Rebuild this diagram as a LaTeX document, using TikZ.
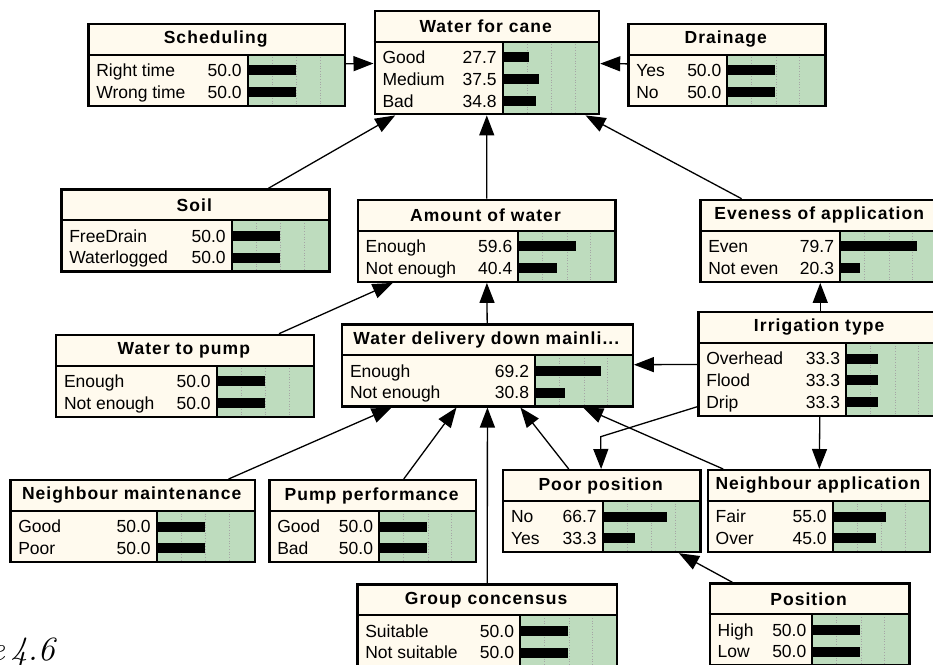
\documentclass[tikz,border=0pt]{standalone}
\usepackage{fontspec}
\usetikzlibrary{arrows.meta}
\newfontfamily\bnfont{Liberation Sans}
\newfontfamily\bntfont[LetterSpace=6]{Liberation Sans}
\definecolor{bncream}{RGB}{255,250,238}
\definecolor{bngreen}{RGB}{190,220,190}
\definecolor{bngridc}{RGB}{165,165,165}
\tikzset{
  bntext/.style={font=\bnfont\fontsize{17.5}{20}\selectfont, inner sep=0pt, outer sep=0pt},
  bntitle/.style={font=\bntfont\bfseries\fontsize{17.5}{20}\selectfont, inner sep=0pt},
  bnline/.style={line width=2pt},
  bngrid/.style={draw=bngridc, dotted, line width=0.7pt},
  bnframe/.style={draw, line width=2.2pt, inner sep=0pt, fill=none},
  arr/.style={-{Triangle[length=20pt,width=15pt]}, line width=1.3pt},
}
% #1 name, #2 left, #3 top, #4 right, #5 split, #6 rows, #7 title, #8 label/value list
\newcommand\bnbox[8]{%
  \pgfmathsetmacro\bnsep{#3+32}%
  \pgfmathsetmacro\bnbot{#3+32+7+21.5*#6}%
  \fill[bncream] (#2,#3) rectangle (#5,\bnbot);
  \fill[bncream] (#2,#3) rectangle (#4,\bnsep);
  \fill[bngreen] (#5,\bnsep) rectangle (#4,\bnbot);
  \foreach \f in {24.5,49,72.5} \draw[bngrid] ({#5+\f},\bnsep) -- ({#5+\f},\bnbot);
  \foreach \lab/\val [count=\i] in {#8} {
    \pgfmathsetmacro\bny{\bnsep+15.5+21.8*(\i-1)}
    \fill[black] (#5,{\bny-5}) rectangle ({#5+0.96*\val},{\bny+5});
    \node[bntext, anchor=base west] (#1-l\i) at ({#2+9},{\bny+6.3}) {\lab};
    \node[bntext, anchor=base east] (#1-v\i) at ({#5-6},{\bny+6.3}) {\val};
  }
  \draw[bnline] (#2,\bnsep) -- (#4,\bnsep);
  \draw[bnline] (#5,\bnsep) -- (#5,\bnbot);
  \node[bntitle] (#1-t) at ({(#2+#4)/2},{#3+16.5}) {#7};
  \node[bnframe, minimum width={#4-#2}, minimum height={\bnbot-#3}, anchor=north west] (#1) at (#2,#3) {};
}
\begin{document}
\begin{tikzpicture}[x=1pt,y=-1pt]
\useasboundingbox (0,0) rectangle (933,664);
\clip (0,0) rectangle (933,664);
\bnbox{sched}{87.3}{22.7}{344}{247.7}{2}{Scheduling}{Right time/50.0, Wrong time/50.0}
\bnbox{wfc}{373.5}{9.7}{598}{502.7}{3}{Water for cane}{Good/27.7, Medium/37.5, Bad/34.8}
\bnbox{drain}{627.3}{22.7}{824.3}{727.3}{2}{Drainage}{Yes/50.0, No/50.0}
\bnbox{soil}{60.3}{188.3}{328.3}{231.7}{2}{Soil}{FreeDrain/50.0, Waterlogged/50.0}
\bnbox{amount}{356.7}{198.7}{614.3}{518.3}{2}{Amount of water}{Enough/59.6, Not enough/40.4}
\bnbox{even}{699.3}{198.7}{939}{840}{2}{Eveness of application}{Even/79.7, Not even/20.3}
\bnbox{wtp}{55}{333.7}{312.7}{216.7}{2}{Water to pump}{Enough/50.0, Not enough/50.0}
\bnbox{wd}{341}{323.3}{631.7}{535}{2}{Water delivery down mainli...}{Enough/69.2, Not enough/30.8}
\bnbox{irr}{697.3}{311}{941}{846}{3}{Irrigation type}{Overhead/33.3, Flood/33.3, Drip/33.3}
\bnbox{nm}{9.3}{479}{254}{156.7}{2}{Neighbour maintenance}{Good/50.0, Poor/50.0}
\bnbox{pp}{268.3}{479}{475}{379}{2}{Pump performance}{Good/50.0, Bad/50.0}
\bnbox{poor}{502}{469}{699.3}{602.7}{2}{Poor position}{No/66.7, Yes/33.3}
\bnbox{na}{706.7}{469}{929}{832.7}{2}{Neighbour application}{Fair/55.0, Over/45.0}
\bnbox{gc}{356.3}{583.3}{616}{520}{2}{Group concensus}{Suitable/50.0, Not suitable/50.0}
\bnbox{pos}{708.7}{582.3}{908.3}{812.3}{2}{Position}{High/50.0, Low/50.0}
\draw[arr] (sched) -- (wfc);
\draw[arr] (drain) -- (wfc);
\draw[arr] (soil) -- (wfc);
\draw[arr] (amount) -- (wfc);
\draw[arr] (even) -- (wfc);
\draw[arr] (wtp) -- (amount);
\draw[arr] (wd) -- (amount);
\draw[arr] (irr) -- (even);
\draw[arr] (irr) -- (wd);
\draw[arr] (irr) -- (na);
\draw[arr] (nm) -- (wd);
\draw[arr] (pp) -- (wd);
\draw[arr] (gc) -- (wd);
\draw[arr] (poor) -- (wd);
\draw[arr] (na) -- (wd);
\draw[arr] (pos) -- (poor);
\coordinate (bend) at (600.65,436.7);
\draw[arr] ([yshift=10pt]irr.south west) -- (bend) -- (poor);
\node[font=\fontsize{34}{40}\selectfont\itshape, anchor=base east, inner sep=0pt] (cap) at (55,660) {e\,4.6};
\end{tikzpicture}
\end{document}
